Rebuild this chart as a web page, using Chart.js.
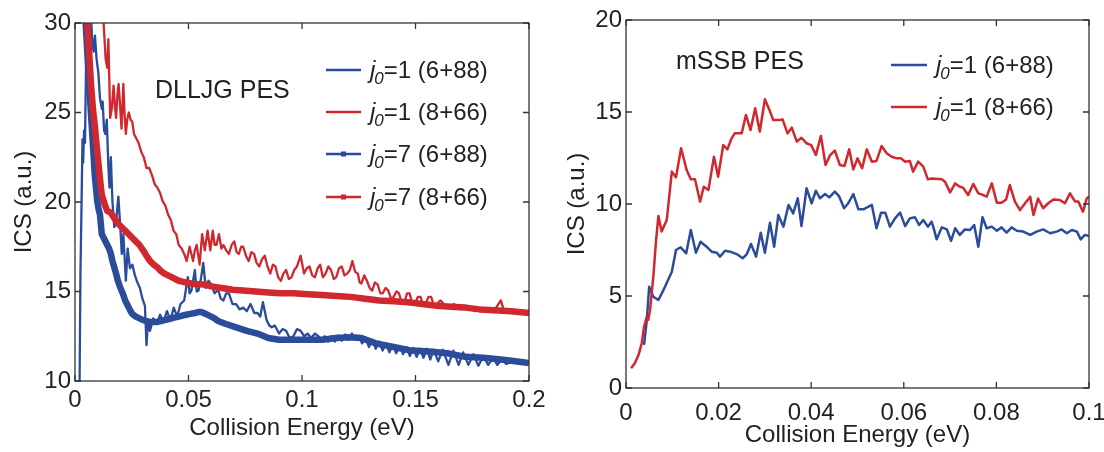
<!DOCTYPE html>
<html>
<head>
<meta charset="utf-8">
<script src="https://cdn.jsdelivr.net/npm/chart.js@4.4.1/dist/chart.umd.min.js"></script>
<style>
  body { margin: 0; background: #fff; width: 1104px; height: 452px; overflow: hidden; position: relative; }
  canvas { position: absolute; top: 0; }
  #left { left: 0; }
  #right { left: 552px; }
</style>
</head>
<body>
<canvas id="left" width="552" height="452"></canvas>
<canvas id="right" width="600" height="452"></canvas>
<script>
// ---- data: [collision energy (eV), ICS (a.u.)] ----
const dlljgJ1a = [ // j0=1 (6+88)
  [0.0019,8],[0.0024,16],[0.0029,20],[0.0033,23.5],[0.0036,22.2],[0.004,24],[0.0044,23.3],[0.0048,27],[0.0053,31],
  [0.0068,31],[0.0075,29.2],[0.0082,28.4],[0.0088,29.3],[0.0095,28],[0.0103,27.2],[0.011,25.8],[0.0118,25.2],[0.0122,25.6],
  [0.0128,24],[0.0134,23.8],[0.014,24.6],[0.0147,22],[0.0152,20.8],[0.0158,22.5],[0.0165,20],[0.0173,18.6],[0.0181,18.9],
  [0.0191,20.3],[0.0201,18.3],[0.0206,17.1],[0.0213,18.2],[0.0224,15.6],[0.0232,17.4],[0.0242,16.3],[0.0253,16.5],[0.0264,15.9],
  [0.0275,15.5],[0.0286,15.2],[0.0297,14.6],[0.0308,14.2],[0.0315,12.0],[0.0322,13.4],[0.033,12.8],[0.0345,13.5],[0.036,13.2],
  [0.0375,13.7],[0.039,13.3],[0.0405,13.9],[0.042,13.4],[0.0435,14.1],[0.045,13.6],[0.0465,14.3],[0.0481,14.5],[0.0497,15.8],
  [0.0505,14.9],[0.0513,15.05],[0.0528,16.2],[0.0536,15.0],[0.0544,15.05],[0.0556,15.8],[0.0565,16.6],[0.0576,15.2],[0.0588,15.6],
  [0.06,15.4],[0.0615,14.9],[0.0631,15.1],[0.0642,14.6],[0.0654,14.5],[0.0666,14.9],[0.0678,14.9],[0.0694,14.3],[0.071,14.3],
  [0.0725,14.0],[0.0741,14.1],[0.0757,13.9],[0.0773,14.3],[0.079,13.8],[0.0804,13.8],[0.0816,13.6],[0.0828,14.4],[0.0844,13.4],
  [0.0856,13.1],[0.0867,13.0],[0.088,13.1],[0.0899,12.65],[0.0915,12.9],[0.093,12.8],[0.0946,12.4],[0.0962,12.5],[0.0978,12.9],
  [0.0994,12.8],[0.101,12.5],[0.1025,12.65],[0.104,12.4],[0.1057,12.65],[0.1072,12.5],[0.1088,12.3],[0.11,12.5],[0.1115,12.2],
  [0.113,12.5],[0.1145,12.2],[0.116,12.55],[0.1175,12.25],[0.119,12.6],[0.1205,12.3],[0.122,12.65],[0.1235,12.3],[0.125,12.5],
  [0.1265,12.1],[0.128,12.4],[0.1295,11.9],[0.131,12.3],[0.1325,11.8],[0.134,12.2],[0.1355,11.7],[0.137,12.1],[0.1385,11.6],
  [0.14,12.0],[0.1415,11.55],[0.143,11.95],[0.1445,11.5],[0.146,11.9],[0.1475,11.4],[0.149,11.85],[0.1505,11.35],[0.152,11.8],
  [0.1535,11.3],[0.155,11.8],[0.1565,11.2],[0.158,11.75],[0.16,11.1],[0.162,11.75],[0.1645,10.9],[0.1667,11.7],[0.169,10.9],
  [0.171,11.6],[0.1733,10.9],[0.1755,11.5],[0.1777,10.85],[0.1799,11.4],[0.182,10.9],[0.1843,11.3],[0.186,10.9],[0.188,11.2],
  [0.19,10.95],[0.193,11.1],[0.196,10.95],[0.2,11.0]
];
const dlljgJ1b = [ // j0=1 (8+66)
  [0.0118,31],[0.0126,30],[0.0135,28.0],[0.0142,27.5],[0.0147,29.1],[0.0155,24.7],[0.0162,25.2],[0.017,26.5],[0.0176,25.3],
  [0.0181,24.7],[0.0187,26.0],[0.0192,26.6],[0.0198,25.5],[0.0205,24.1],[0.0213,26.6],[0.0218,25.0],[0.0224,23.8],[0.023,24.6],
  [0.0237,25.0],[0.0245,24.6],[0.0252,24.5],[0.026,23.8],[0.0268,23.6],[0.028,23.3],[0.0292,22.8],[0.0303,22.5],[0.0315,21.9],
  [0.0327,21.9],[0.0339,21.5],[0.0351,21.0],[0.0363,20.8],[0.0375,20.5],[0.0386,20.05],[0.0398,19.8],[0.041,19.3],[0.0422,19.0],
  [0.0434,18.4],[0.0446,18.2],[0.0457,17.6],[0.047,17.4],[0.0481,17.1],[0.0492,16.7],[0.0505,17.5],[0.052,16.7],[0.0528,17.3],
  [0.0536,17.6],[0.0549,16.5],[0.056,18.2],[0.0572,17.3],[0.0584,18.4],[0.0596,17.3],[0.0607,18.4],[0.0615,17.6],[0.0623,17.6],
  [0.0634,18.2],[0.0645,17.4],[0.0654,17.6],[0.0666,17.3],[0.0678,17.1],[0.069,17.6],[0.0702,17.8],[0.0712,17.2],[0.0722,17.1],
  [0.0732,17.5],[0.0741,17.5],[0.0753,17.0],[0.0765,16.7],[0.0777,17.2],[0.0789,17.1],[0.08,16.6],[0.0812,16.4],[0.0824,16.8],
  [0.0836,17.0],[0.0848,16.4],[0.086,16.0],[0.0872,16.5],[0.0883,16.4],[0.0895,15.8],[0.0907,15.6],[0.0918,16.0],[0.093,16.2],
  [0.0942,15.7],[0.0954,15.8],[0.0966,16.2],[0.0978,16.4],[0.0994,17.0],[0.1009,16.0],[0.1021,16.3],[0.1033,16.4],[0.1045,15.9],
  [0.1057,15.8],[0.1069,16.3],[0.108,16.5],[0.1092,15.8],[0.1104,16.0],[0.1116,16.4],[0.1128,16.2],[0.114,15.7],[0.1151,15.8],
  [0.1163,16.3],[0.1175,16.4],[0.1187,15.9],[0.1199,16.0],[0.1211,16.2],[0.1222,16.7],[0.1234,16.1],[0.1246,16.0],[0.1254,15.5],
  [0.1262,15.45],[0.1274,15.9],[0.1286,15.6],[0.1298,15.2],[0.1309,15.05],[0.1321,15.5],[0.1333,15.4],[0.1345,14.9],[0.1356,14.9],
  [0.1368,15.2],[0.138,15.05],[0.1392,14.6],[0.1404,14.7],[0.1416,15.0],[0.1427,14.9],[0.1439,14.4],[0.1451,14.4],[0.1463,14.9],
  [0.1474,14.9],[0.1486,14.3],[0.1498,14.3],[0.151,14.7],[0.1522,14.7],[0.1534,14.2],[0.1545,14.3],[0.1557,14.7],[0.1569,14.7],
  [0.1581,14.2],[0.1593,14.3],[0.161,14.5],[0.164,14.1],[0.167,14.3],[0.17,14.0],[0.173,14.2],[0.176,13.9],[0.179,14.1],
  [0.182,13.9],[0.185,14.0],[0.1876,14.5],[0.189,13.9],[0.192,14.0],[0.195,13.8],[0.198,13.9],[0.2,13.7]
];
const dlljgJ7a = [ // j0=7 (6+88)
  [0.0042,31],[0.0047,30],[0.0055,28.2],[0.0063,26.5],[0.007,25.0],[0.0076,23.8],[0.0082,22.6],[0.0087,21.5],[0.0093,20.7],
  [0.0098,20.05],[0.0104,19.6],[0.011,19.3],[0.0118,18.2],[0.013,17.9],[0.0142,17.6],[0.015,17.4],[0.0158,17.1],[0.0165,16.7],
  [0.0173,16.35],[0.0181,16.0],[0.0189,15.6],[0.0197,15.3],[0.0205,15.05],[0.0213,14.8],[0.0221,14.5],[0.0229,14.3],[0.0237,14.1],
  [0.0245,13.9],[0.0252,13.75],[0.0268,13.6],[0.0284,13.5],[0.03,13.4],[0.0315,13.35],[0.0331,13.3],[0.0347,13.3],[0.0363,13.3],
  [0.0378,13.35],[0.0394,13.4],[0.041,13.45],[0.0426,13.5],[0.0441,13.55],[0.0457,13.6],[0.0473,13.65],[0.0489,13.7],[0.0508,13.75],
  [0.0528,13.8],[0.0544,13.85],[0.0556,13.85],[0.0576,13.75],[0.06,13.6],[0.0615,13.5],[0.063,13.35],[0.0662,13.2],[0.071,13.0],
  [0.0757,12.8],[0.0804,12.65],[0.0852,12.4],[0.0899,12.3],[0.0962,12.3],[0.1025,12.3],[0.1088,12.3],[0.1151,12.4],[0.1214,12.45],
  [0.1262,12.4],[0.1325,12.1],[0.1404,11.9],[0.1482,11.7],[0.1561,11.65],[0.164,11.55],[0.172,11.35],[0.1798,11.3],[0.1876,11.2],
  [0.194,11.1],[0.2,11.0]
];
const dlljgJ7b = [ // j0=7 (8+66)
  [0.005,31],[0.0055,30],[0.0063,28.2],[0.0071,26.5],[0.0079,25.2],[0.0087,24.3],[0.0095,23.2],[0.0102,22.3],[0.011,21.3],
  [0.0118,20.4],[0.013,19.9],[0.0142,19.5],[0.0157,19.4],[0.0173,19.1],[0.0189,18.8],[0.0205,18.6],[0.0221,18.4],[0.0237,18.2],
  [0.0252,18.0],[0.0268,17.8],[0.0284,17.6],[0.03,17.3],[0.0315,17.0],[0.0331,16.7],[0.0347,16.5],[0.0363,16.35],[0.0378,16.15],
  [0.0394,16.0],[0.041,15.9],[0.0426,15.8],[0.0441,15.7],[0.0457,15.6],[0.0473,15.55],[0.0489,15.5],[0.0512,15.45],[0.0536,15.4],
  [0.056,15.4],[0.0584,15.35],[0.0615,15.25],[0.0647,15.2],[0.0694,15.1],[0.0741,15.05],[0.0796,15.0],[0.0852,14.95],[0.0907,14.9],
  [0.0962,14.9],[0.1025,14.85],[0.1088,14.8],[0.1151,14.75],[0.1214,14.7],[0.1277,14.6],[0.134,14.5],[0.1404,14.45],[0.1467,14.4],
  [0.153,14.3],[0.1593,14.2],[0.1656,14.15],[0.172,14.1],[0.1782,14.0],[0.1845,13.95],[0.1922,13.9],[0.2,13.8]
];
const msbJ1a = [ // j0=1 (6+88)
  [0.0039,2.34],[0.0045,3.7],[0.005,5.5],[0.0059,4.96],[0.007,4.78],[0.0081,5.33],[0.0099,6.32],[0.0108,7.5],[0.0118,7.65],
  [0.013,7.32],[0.014,8.59],[0.0151,7.35],[0.0161,7.95],[0.0174,7.68],[0.0185,7.41],[0.0196,7.35],[0.0203,7.14],[0.0214,7.46],
  [0.0225,7.41],[0.0239,7.28],[0.0252,7.05],[0.0261,7.28],[0.027,7.83],[0.0281,7.14],[0.0291,8.44],[0.03,7.35],[0.0311,8.98],
  [0.032,7.68],[0.0329,9.4],[0.034,8.77],[0.0351,9.95],[0.0361,9.49],[0.0371,10.31],[0.0379,8.8],[0.039,10.85],[0.0401,10.04],
  [0.041,10.72],[0.0419,10.31],[0.043,10.54],[0.0439,10.36],[0.0451,10.67],[0.046,10.43],[0.0471,9.77],[0.048,10.04],[0.0491,10.54],
  [0.0502,9.71],[0.0513,9.71],[0.0523,9.85],[0.0531,9.95],[0.0541,8.68],[0.0551,9.53],[0.056,9.53],[0.057,8.77],[0.0581,9.22],
  [0.0592,9.53],[0.0603,8.8],[0.0613,9.22],[0.0624,9.28],[0.0633,8.86],[0.0642,9.13],[0.0652,8.77],[0.066,9.04],[0.0664,8.73],
  [0.0671,8.08],[0.0682,8.73],[0.0693,8.62],[0.0702,8.0],[0.0711,8.68],[0.0721,8.32],[0.0732,8.62],[0.0743,8.59],[0.0752,8.86],
  [0.0761,7.68],[0.077,9.28],[0.0779,8.68],[0.079,8.77],[0.0801,8.55],[0.0811,8.73],[0.0822,8.44],[0.0833,8.73],[0.0844,8.55],
  [0.0858,8.5],[0.0873,8.32],[0.0887,8.5],[0.0901,8.62],[0.0916,8.41],[0.093,8.5],[0.0941,8.62],[0.0952,8.41],[0.0963,8.59],
  [0.0974,8.5],[0.0982,8.08],[0.0991,8.32],[0.1,8.26]
];
const msbJ1b = [ // j0=1 (8+66)
  [0.0011,1.07],[0.0019,1.34],[0.0027,1.79],[0.0034,2.43],[0.0039,3.33],[0.0045,3.88],[0.0048,3.7],[0.0052,4.24],[0.0059,6.05],
  [0.0065,8.04],[0.007,9.35],[0.0077,8.5],[0.0088,9.13],[0.0099,11.76],[0.0108,11.45],[0.0119,13.03],[0.0131,11.85],[0.014,11.34],
  [0.0149,11.34],[0.016,10.13],[0.0168,10.94],[0.0178,10.76],[0.019,12.57],[0.0199,11.48],[0.021,13.2],[0.0219,12.97],[0.0228,13.57],
  [0.0235,13.84],[0.025,13.84],[0.0259,14.84],[0.0269,14.02],[0.0279,15.2],[0.0289,13.94],[0.03,15.69],[0.031,15.1],[0.0318,14.56],
  [0.0331,14.56],[0.0338,14.6],[0.0349,13.84],[0.0358,14.15],[0.0369,13.39],[0.0379,13.6],[0.039,13.3],[0.04,13.2],[0.041,12.66],
  [0.0421,13.7],[0.0431,12.12],[0.0441,12.66],[0.0451,12.9],[0.0462,12.12],[0.0472,12.07],[0.0482,12.97],[0.0491,11.88],[0.05,12.48],
  [0.051,11.94],[0.052,12.97],[0.0531,12.3],[0.0541,12.34],[0.0552,13.15],[0.0563,12.76],[0.0574,12.57],[0.0585,12.48],[0.0594,12.48],
  [0.0603,12.3],[0.0613,12.34],[0.062,11.76],[0.0631,12.3],[0.0642,12.03],[0.0652,11.34],[0.066,11.39],[0.0682,11.34],[0.0689,11.21],
  [0.07,10.63],[0.0711,11.12],[0.0721,10.94],[0.0728,10.89],[0.0739,10.49],[0.075,11.09],[0.0761,10.58],[0.0768,10.52],[0.0779,10.4],
  [0.079,11.12],[0.0801,10.07],[0.0811,10.07],[0.0821,10.25],[0.0829,11.03],[0.084,10.13],[0.0851,9.67],[0.0862,10.04],[0.0873,10.4],
  [0.088,9.4],[0.089,10.3],[0.0901,9.77],[0.0912,10.04],[0.0923,10.25],[0.0937,10.22],[0.0948,10.04],[0.0959,10.58],[0.097,10.13],
  [0.0977,10.13],[0.0987,9.58],[0.0995,10.3],[0.1,10.4]
];

const leftXTicks = [0, 0.05, 0.1, 0.15, 0.2];
const leftYTicks = [10, 15, 20, 25, 30];
const rightXTicks = [0, 0.02, 0.04, 0.06, 0.08, 0.1];
const rightYTicks = [0, 5, 10, 15, 20];

const BLUE = '#2b4b9b';
const RED = '#d0282e';
const INK = '#222';
const FONT = "'Liberation Sans', Arial, Helvetica, sans-serif";

const pts = arr => arr.map(p => ({ x: p[0], y: p[1] }));

function series(jv, rest, data, color, width, marker, order) {
  return {
    label: 'j0=' + jv + ' ' + rest, jv: jv, rest: rest, data: pts(data),
    borderColor: color, backgroundColor: color,
    borderWidth: width, marker: marker,
    pointRadius: 0, tension: 0, clip: 0, order: order,
    borderJoinStyle: 'round'
  };
}

// box + inward ticks like the original figure
const frame = {
  id: 'frame',
  afterDraw(chart) {
    const { ctx, chartArea: a, scales: { x, y } } = chart;
    ctx.save();
    ctx.strokeStyle = '#333';
    ctx.lineWidth = 1.3;
    ctx.strokeRect(a.left, a.top, a.right - a.left, a.bottom - a.top);
    ctx.beginPath();
    x.ticks.forEach(t => {
      const px = x.getPixelForValue(t.value);
      ctx.moveTo(px, a.bottom); ctx.lineTo(px, a.bottom - 6);
      ctx.moveTo(px, a.top); ctx.lineTo(px, a.top + 6);
    });
    y.ticks.forEach(t => {
      const py = y.getPixelForValue(t.value);
      ctx.moveTo(a.left, py); ctx.lineTo(a.left + 6, py);
      ctx.moveTo(a.right, py); ctx.lineTo(a.right - 6, py);
    });
    ctx.stroke();
    ctx.restore();
  }
};

// MATLAB style legend with italic j and subscript 0, plus the PES note
const matLegend = {
  id: 'matLegend',
  afterDraw(chart, args, opts) {
    const ctx = chart.ctx;
    ctx.save();
    ctx.textBaseline = 'middle';
    ctx.fillStyle = INK;
    ctx.font = '25px ' + FONT;
    ctx.fillText(opts.note, opts.noteX, opts.noteY);
    chart.data.datasets.forEach((ds, i) => {
      const yy = opts.rows[i];
      ctx.strokeStyle = ds.borderColor;
      ctx.lineWidth = 2.4;
      ctx.beginPath();
      ctx.moveTo(opts.x0, yy); ctx.lineTo(opts.x1, yy);
      ctx.stroke();
      if (ds.marker) {
        ctx.fillStyle = ds.borderColor;
        ctx.fillRect((opts.x0 + opts.x1) / 2 - 2.5, yy - 2.5, 5, 5);
      }
      ctx.fillStyle = INK;
      let tx = opts.xt;
      ctx.font = 'italic 24px ' + FONT;
      ctx.fillText('j', tx, yy + 1);
      tx += ctx.measureText('j').width;
      ctx.font = 'italic 17px ' + FONT;
      ctx.fillText('0', tx - 1, yy + 9);
      tx += ctx.measureText('0').width - 1;
      ctx.font = '24px ' + FONT;
      ctx.fillText('=' + ds.jv + ' ' + ds.rest, tx, yy + 1);
    });
    ctx.restore();
  }
};

function axisOpts(min, max, ticks, isX, size, tickPad, titleText, titlePad) {
  return {
    type: 'linear', min: min, max: max,
    afterBuildTicks: s => { s.ticks = ticks.map(v => ({ value: v })); },
    afterFit: s => { if (isX) s.height = size; else s.width = size; },
    grid: { display: false, drawTicks: false },
    border: { display: false },
    ticks: {
      color: INK, padding: tickPad,
      font: { family: FONT, size: 24 },
      callback: v => String(+v.toFixed(3)),
      maxRotation: 0, autoSkip: false
    },
    title: {
      display: true, text: titleText, color: INK,
      font: { family: FONT, size: 24 },
      padding: isX ? { top: 0, bottom: titlePad } : { top: titlePad, bottom: 0 }
    }
  };
}

function baseOptions(pad, xs, ys, legendOpts) {
  return {
    responsive: false, animation: false,
    layout: { padding: pad },
    scales: { x: xs, y: ys },
    plugins: { legend: { display: false }, tooltip: { enabled: false }, matLegend: legendOpts }
  };
}

new Chart(document.getElementById('left'), {
  type: 'line',
  data: {
    datasets: [
      series('1', '(6+88)', dlljgJ1a, BLUE, 2.3, false, 4),
      series('1', '(8+66)', dlljgJ1b, RED, 2.3, false, 3),
      series('7', '(6+88)', dlljgJ7a, BLUE, 6.5, true, 2),
      series('7', '(8+66)', dlljgJ7b, RED, 6.5, true, 1)
    ]
  },
  options: baseOptions(
    { left: 0, right: 23, top: 23, bottom: 0 },
    axisOpts(0, 0.2, leftXTicks, true, 71, 5, 'Collision Energy (eV)', 9),
    axisOpts(10, 30, leftYTicks, false, 75, 4, 'ICS (a.u.)', 10),
    { note: 'DLLJG PES', noteX: 155, noteY: 91, x0: 326, x1: 361, xt: 370, rows: [70, 112, 154, 197] }
  ),
  plugins: [frame, matLegend]
});

new Chart(document.getElementById('right'), {
  type: 'line',
  data: {
    datasets: [
      series('1', '(6+88)', msbJ1a, BLUE, 2.5, false, 2),
      series('1', '(8+66)', msbJ1b, RED, 2.5, false, 1)
    ]
  },
  options: baseOptions(
    { left: 0, right: 63, top: 20, bottom: 0 },
    axisOpts(0, 0.1, rightXTicks, true, 64, 11, 'Collision Energy (eV)', 2),
    axisOpts(0, 20, rightYTicks, false, 74, 4, 'ICS (a.u.)', 11),
    { note: 'mSSB PES', noteX: 124, noteY: 62, x0: 339, x1: 375, xt: 384, rows: [65, 107] }
  ),
  plugins: [frame, matLegend]
});
</script>
</body>
</html>
